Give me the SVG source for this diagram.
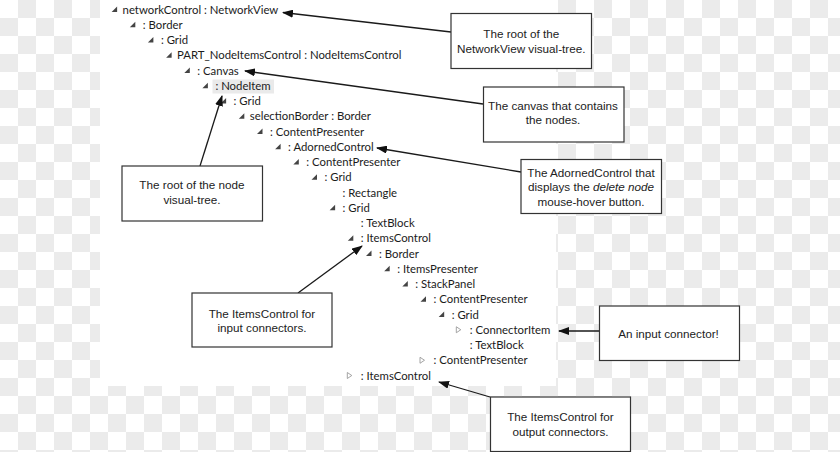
<svg xmlns="http://www.w3.org/2000/svg" width="840" height="452" viewBox="0 0 840 452">
<defs>
<pattern id="chk" x="0" y="0" width="36" height="36" patternUnits="userSpaceOnUse">
<rect width="36" height="36" fill="#ffffff"/>
<rect x="18" y="0" width="18" height="18" fill="#ebebeb"/>
<rect x="0" y="18" width="18" height="18" fill="#ebebeb"/>
</pattern>
<marker id="ah" markerUnits="userSpaceOnUse" markerWidth="11" markerHeight="8" refX="10" refY="4" orient="auto">
<path d="M0,0 L11,4 L0,8 z" fill="#111"/>
</marker>
<path id="tri" d="M6,-3 L6,2.5 L0.5,2.5 z"/>
<path id="otri" d="M0,-3 L4.5,0 L0,3 z"/>
</defs>
<style>
.t{font-family:Lato,"Open Sans",sans-serif;font-size:11.35px;fill:#1b1b1b}
.c{font-family:"Liberation Sans",Arial,sans-serif;font-size:11.7px;fill:#222;text-anchor:middle}
.box{fill:#fff;stroke:#333;stroke-width:1.2}
.ft{fill:#444}
.ot{fill:#fff;stroke:#9a9a9a;stroke-width:0.9}
.con{stroke:#1a1a1a;stroke-width:1.3;fill:none;marker-end:url(#ah)}
</style>
<rect width="840" height="452" fill="url(#chk)"/>
<rect x="100" y="0" width="456" height="386" fill="#fff"/>
<g id="tree">
<rect x="212.5" y="79.5" width="61.5" height="14" fill="#eaeaea"/>
<use href="#tri" class="ft" x="111.1" y="9.5"/><text class="t" x="122.6" y="13.5">networkControl : NetworkView</text>
<use href="#tri" class="ft" x="129.3" y="24.75"/><text class="t" x="142.8" y="28.75">: Border</text>
<use href="#tri" class="ft" x="147.4" y="40"/><text class="t" x="160.9" y="44">: Grid</text>
<use href="#tri" class="ft" x="165.6" y="55.25"/><text class="t" x="177.1" y="59.25">PART_NodeItemsControl : NodeItemsControl</text>
<use href="#tri" class="ft" x="183.8" y="70.5"/><text class="t" x="197.3" y="74.5">: Canvas</text>
<use href="#tri" class="ft" x="201.9" y="85.75"/><text class="t" x="215.4" y="89.75">: NodeItem</text>
<use href="#tri" class="ft" x="220.1" y="101"/><text class="t" x="233.6" y="105">: Grid</text>
<use href="#tri" class="ft" x="238.3" y="116.25"/><text class="t" x="249.8" y="120.25">selectionBorder : Border</text>
<use href="#tri" class="ft" x="256.5" y="131.5"/><text class="t" x="270" y="135.5">: ContentPresenter</text>
<use href="#tri" class="ft" x="274.6" y="146.75"/><text class="t" x="288.1" y="150.75">: AdornedControl</text>
<use href="#tri" class="ft" x="292.8" y="162"/><text class="t" x="306.3" y="166">: ContentPresenter</text>
<use href="#tri" class="ft" x="311" y="177.25"/><text class="t" x="324.5" y="181.25">: Grid</text>
<text class="t" x="342.6" y="196.5">: Rectangle</text>
<use href="#tri" class="ft" x="329.1" y="207.75"/><text class="t" x="342.6" y="211.75">: Grid</text>
<text class="t" x="360.8" y="227">: TextBlock</text>
<use href="#tri" class="ft" x="347.3" y="238.25"/><text class="t" x="360.8" y="242.25">: ItemsControl</text>
<use href="#tri" class="ft" x="365.5" y="253.5"/><text class="t" x="379" y="257.5">: Border</text>
<use href="#tri" class="ft" x="383.7" y="268.75"/><text class="t" x="397.2" y="272.75">: ItemsPresenter</text>
<use href="#tri" class="ft" x="401.8" y="284"/><text class="t" x="415.3" y="288">: StackPanel</text>
<use href="#tri" class="ft" x="420" y="299.25"/><text class="t" x="433.5" y="303.25">: ContentPresenter</text>
<use href="#tri" class="ft" x="438.2" y="314.5"/><text class="t" x="451.7" y="318.5">: Grid</text>
<use href="#otri" class="ot" x="456.3" y="329.75"/><text class="t" x="469.8" y="333.75">: ConnectorItem</text>
<text class="t" x="469.8" y="349">: TextBlock</text>
<use href="#otri" class="ot" x="420" y="360.25"/><text class="t" x="433.5" y="364.25">: ContentPresenter</text>
<use href="#otri" class="ot" x="347.3" y="375.5"/><text class="t" x="360.8" y="379.5">: ItemsControl</text>
</g>
<g id="connectors">
<line class="con" x1="451" y1="32" x2="283" y2="12.5"/>
<line class="con" x1="483" y1="104" x2="245" y2="71"/>
<line class="con" x1="521" y1="172" x2="377" y2="148"/>
<line class="con" x1="200" y1="166" x2="222" y2="96"/>
<line class="con" x1="298" y1="293" x2="362" y2="246"/>
<line class="con" x1="599" y1="331" x2="559" y2="331"/>
<line class="con" x1="490" y1="397" x2="439" y2="382"/>
</g>
<g id="note-networkview">
<rect class="box" x="451" y="13.5" width="140.5" height="55"/>
<text class="c" x="521.3" y="37.5">The root of the</text>
<text class="c" x="521.3" y="52.5">NetworkView visual-tree.</text>
</g>
<g id="note-canvas">
<rect class="box" x="483.5" y="87" width="140.5" height="55"/>
<text class="c" x="553" y="110">The canvas that contains</text>
<text class="c" x="553" y="123.5">the nodes.</text>
</g>
<g id="note-adorned">
<rect class="box" x="521" y="159.5" width="140.5" height="54"/>
<text class="c" x="591" y="176.5">The AdornedControl that</text>
<text class="c" x="591" y="191">displays the <tspan font-style="italic">delete node</tspan></text>
<text class="c" x="591" y="205.5">mouse-hover button.</text>
</g>
<g id="note-node">
<rect class="box" x="122" y="166" width="140.5" height="55"/>
<text class="c" x="192" y="189">The root of the node</text>
<text class="c" x="192" y="204">visual-tree.</text>
</g>
<g id="note-input-ic">
<rect class="box" x="192" y="293" width="140" height="54"/>
<text class="c" x="262" y="317.5">The ItemsControl for</text>
<text class="c" x="262" y="331.5">input connectors.</text>
</g>
<g id="note-connector">
<rect class="box" x="599.5" y="306" width="140" height="54.5"/>
<text class="c" x="668.5" y="337.5">An input connector!</text>
</g>
<g id="note-output-ic">
<rect class="box" x="490.5" y="397" width="140" height="54.5"/>
<text class="c" x="560.5" y="421">The ItemsControl for</text>
<text class="c" x="560.5" y="436">output connectors.</text>
</g>
</svg>
